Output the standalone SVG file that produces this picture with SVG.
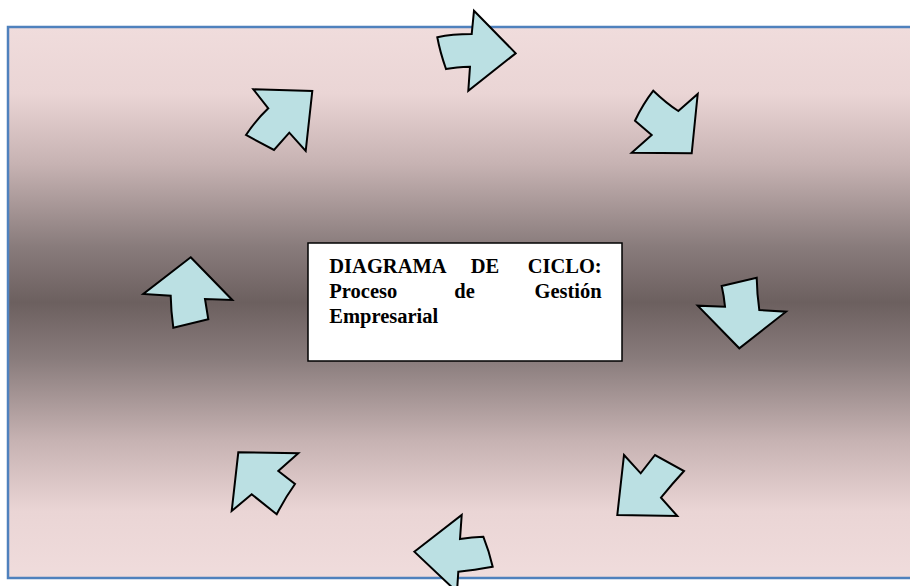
<svg xmlns="http://www.w3.org/2000/svg" width="910" height="586" viewBox="0 0 910 586">
  <defs>
    <linearGradient id="bg" x1="0" y1="0" x2="0" y2="1">
      <stop offset="0" stop-color="#F0DCDC"/>
      <stop offset="0.12" stop-color="#EAD5D5"/>
      <stop offset="0.25" stop-color="#C6B2B2"/>
      <stop offset="0.4" stop-color="#887B7B"/>
      <stop offset="0.5" stop-color="#6C605F"/>
      <stop offset="0.6" stop-color="#887B7B"/>
      <stop offset="0.75" stop-color="#C6B2B2"/>
      <stop offset="0.88" stop-color="#EAD5D5"/>
      <stop offset="1" stop-color="#F0DCDC"/>
    </linearGradient>
    <style>
      .arrow { fill: #BBE0E3; stroke: #000000; stroke-width: 2; stroke-linejoin: miter; }
      .box { fill: #FFFFFF; stroke: #000000; stroke-width: 1.5; }
      .lbl { font-family: "Liberation Serif", "Times New Roman", serif; font-weight: bold; font-size: 20.5px; fill: #000000; }
    </style>
  </defs>
  <rect width="910" height="586" fill="#FFFFFF"/>
  <g id="frame">
    <rect x="8" y="27" width="910" height="551" fill="url(#bg)" stroke="#4F81BD" stroke-width="2.5"/>
  </g>
  <g id="connectors">
    <path id="arrow-top" class="arrow" d="M437.3,37.3 Q452,34 471.7,34 L474,10.7 L515.7,53.3 L468.3,90.7 L470,66.7 Q456,67 446,69 Q440,52 437.3,37.3 Z"/>
    <path id="arrow-top-right" class="arrow" d="M653.3,90.7 Q666,103 678.3,111 L697.7,94 L691.7,153.3 L631.7,152.7 L651.7,135 L635,120.7 Q643,104 653.3,90.7 Z"/>
    <path id="arrow-right" class="arrow" d="M721.7,286 L756.7,277.7 Q757,294 759.3,310 L786,311.7 L739.3,348.3 L697.7,305.7 L725,306.7 Q724,296 721.7,286 Z"/>
    <path id="arrow-bottom-right" class="arrow" d="M624,455 L640.7,473.3 L655,455 L684,471 Q672,484 661,497.7 L677.3,516 L617.3,515 Z"/>
    <path id="arrow-bottom" class="arrow" d="M414.3,551.7 L461.7,515 L460,539 Q472,537 483.3,536.7 Q489,551 492.7,566.7 Q474,570 458.3,571.7 L457,592 Z"/>
    <path id="arrow-bottom-left" class="arrow" d="M238.3,452.3 L298.3,453.3 L278.3,471 L295,484 Q285,498 276.7,514.3 L251.7,494.3 L231.7,511 Z"/>
    <path id="arrow-left" class="arrow" d="M190.7,257.3 L232.3,300 L205,299 L208.3,319.3 L173.3,327.7 Q171,311 170.7,295.7 L143.3,294 Z"/>
    <path id="arrow-top-left" class="arrow" d="M253.3,89.3 L312.3,91 L305.7,151 L289.3,132.7 L274,150 L246,135 Q256,120 268.3,108.3 Z"/>
  </g>
  <g id="node-center">
    <rect class="box" x="308" y="243" width="314" height="118"/>
    <text class="lbl" x="329.3" y="272.5">DIAGRAMA</text>
    <text class="lbl" x="485" y="272.5" text-anchor="middle">DE</text>
    <text class="lbl" x="601.7" y="272.5" text-anchor="end">CICLO:</text>
    <text class="lbl" x="329.3" y="297.8">Proceso</text>
    <text class="lbl" x="464.5" y="297.8" text-anchor="middle">de</text>
    <text class="lbl" x="601.7" y="297.8" text-anchor="end">Gestión</text>
    <text class="lbl" x="329.3" y="323.2">Empresarial</text>
  </g>
</svg>
